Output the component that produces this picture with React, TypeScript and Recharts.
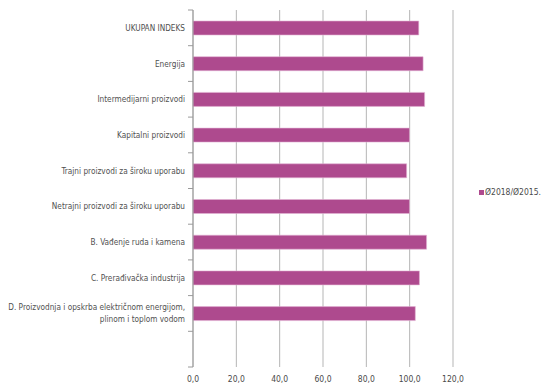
import { Bar, BarChart, CartesianGrid, XAxis, YAxis } from 'recharts';

const categories = [
  'UKUPAN INDEKS',
  'Energija',
  'Intermedijarni proizvodi',
  'Kapitalni proizvodi',
  'Trajni proizvodi za široku uporabu',
  'Netrajni proizvodi za široku uporabu',
  'B. Vađenje ruda i kamena',
  'C. Prerađivačka industrija',
  'D. Proizvodnja i opskrba električnom energijom,\nplinom i toplom vodom',
  '',
];
const values = [104.2, 106.2, 106.9, 99.9, 98.6, 99.9, 107.8, 104.5, 102.6, null];
const xTicks = [0, 20, 40, 60, 80, 100, 120];
const seriesName = 'Ø2018/Ø2015.';

const data = categories.map((name, i) => ({ name, value: values[i] }));

const FONT = '"Liberation Sans Narrow", "DejaVu Sans Condensed", Roboto, sans-serif';
const BAND = 35.7;

function CategoryTick(props: any) {
  const { x, y, payload, index } = props;
  const lines = String(payload.value).split('\n');
  const lineH = 12;
  const startY = y - ((lines.length - 1) * lineH) / 2;
  return (
    <g>
      <line x1={x + 3} x2={x + 8} y1={y - BAND / 2} y2={y - BAND / 2} stroke="#9a9a9a" />
      {index === categories.length - 1 && (
        <line x1={x + 3} x2={x + 8} y1={y + BAND / 2} y2={y + BAND / 2} stroke="#9a9a9a" />
      )}
      <text x={x} y={startY} textAnchor="end" fontSize={8.2} fill="#505050" fontFamily={FONT}>
        {lines.map((l, i) => (
          <tspan key={i} x={x} dy={i === 0 ? 3 : lineH}>
            {l}
          </tspan>
        ))}
      </text>
    </g>
  );
}

function ValueTick(props: any) {
  const { x, payload } = props;
  return (
    <text x={x} y={382} textAnchor="middle" fontSize={8.5} fill="#4a4a4a" fontFamily={FONT}>
      {Number(payload.value).toFixed(1).replace('.', ',')}
    </text>
  );
}

export default function App() {
  return (
    <div style={{ position: 'absolute', left: 0, top: 0, width: 547, height: 383, background: '#fff' }}>
      <BarChart
        width={547}
        height={383}
        data={data}
        layout="vertical"
        margin={{ top: 10, right: 94, bottom: 0, left: 0 }}
        barCategoryGap={0}
      >
        <CartesianGrid horizontal={false} stroke="#b5b5b5" strokeWidth={1} />
        <XAxis
          type="number"
          domain={[0, 120]}
          ticks={xTicks}
          axisLine={false}
          tickLine={false}
          height={16}
          interval={0}
          tick={<ValueTick />}
        />
        <YAxis
          type="category"
          dataKey="name"
          width={193}
          axisLine={{ stroke: '#9a9a9a' }}
          tickLine={false}
          interval={0}
          tick={<CategoryTick />}
        />
        <Bar
          dataKey="value"
          name={seriesName}
          fill="#ae4a8e"
          stroke="#e2b3d3"
          strokeWidth={0.6}
          barSize={14}
          isAnimationActive={false}
        />
      </BarChart>
      <div
        style={{
          position: 'absolute',
          left: 479,
          top: 187,
          display: 'flex',
          alignItems: 'center',
          fontFamily: FONT,
          fontSize: 8.5,
          color: '#4a4a4a',
          whiteSpace: 'nowrap',
        }}
      >
        <span style={{ width: 5, height: 5, background: '#ae4a8e', marginRight: 1, display: 'inline-block' }} />
        <span>{seriesName}</span>
      </div>
    </div>
  );
}
